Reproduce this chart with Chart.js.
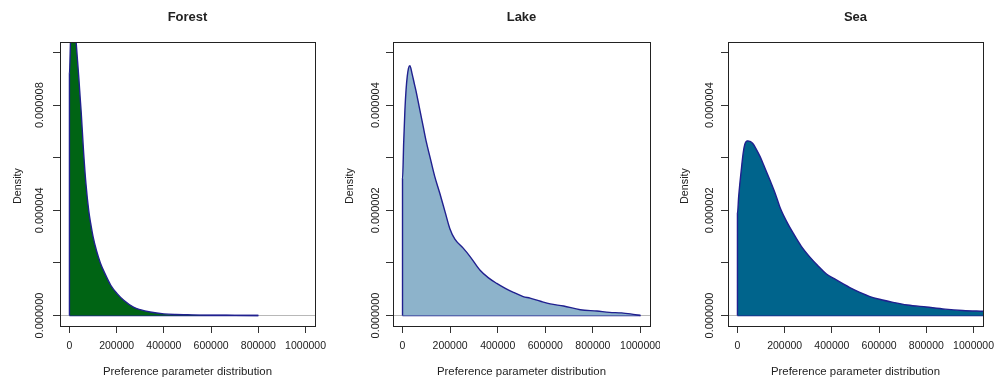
<!DOCTYPE html>
<html>
<head>
<meta charset="utf-8">
<script src="https://cdn.jsdelivr.net/npm/chart.js@4.4.1/dist/chart.umd.min.js"></script>
<style>
  html, body { margin: 0; padding: 0; background: #ffffff; }
  #wrap { position: relative; width: 995px; height: 381px; }
  .pane { position: absolute; top: 0; height: 381px; }
</style>
</head>
<body>
<div id="wrap">
  <div class="pane" style="left:0;width:330px"><canvas id="cForest"></canvas></div>
  <div class="pane" style="left:330px;width:330px"><canvas id="cLake"></canvas></div>
  <div class="pane" style="left:660px;width:335px"><canvas id="cSea"></canvas></div>
</div>
<script>
// ---------- data (density values) ----------
const panelTitles = ["Forest", "Lake", "Sea"];
const xAxisTitle = "Preference parameter distribution";
const yAxisTitle = "Density";

const xTickValues = [0, 200000, 400000, 600000, 800000, 1000000];
const xTickLabels = ["0", "200000", "400000", "600000", "800000", "1000000"];

const forestYTicks = [0, 0.000002, 0.000004, 0.000006, 0.000008, 0.000010];
const forestYLabels = ["0.000000", "", "0.000004", "", "0.000008", ""];
const waterYTicks = [0, 0.000001, 0.000002, 0.000003, 0.000004, 0.000005];
const waterYLabels = ["0.000000", "", "0.000002", "", "0.000004", ""];

const forestX = [0, 5000, 10000, 15000, 20000, 25000, 30000, 35000, 40000, 46000, 50000, 60000, 70000, 81500, 90000, 100000, 115000, 131000, 150000, 175000, 201000, 230000, 271000, 300000, 342000, 400000, 450000, 500000, 550000, 600000, 700000, 800000];
const forestY = [9.2e-6, 10.6e-6, 11.3e-6, 11.5e-6, 11.3e-6, 10.8e-6, 10.2e-6, 9.6e-6, 9.0e-6, 8.2e-6, 7.7e-6, 6.2e-6, 5.0e-6, 4.0e-6, 3.5e-6, 3.0e-6, 2.45e-6, 2.0e-6, 1.6e-6, 1.15e-6, 0.84e-6, 0.58e-6, 0.32e-6, 0.22e-6, 0.13e-6, 0.06e-6, 0.035e-6, 0.025e-6, 0.015e-6, 0.01e-6, 0.005e-6, 0];

const lakeX = [0, 5000, 10000, 15000, 20000, 25000, 31000, 40000, 50000, 59000, 70000, 87000, 100000, 115000, 135000, 157000, 180000, 199000, 220000, 255000, 284000, 326000, 360000, 396000, 430000, 466000, 507000, 536000, 580000, 621000, 677000, 747000, 817000, 870000, 920000, 958000, 1000000];
const lakeY = [2.6e-6, 3.3e-6, 3.9e-6, 4.3e-6, 4.55e-6, 4.7e-6, 4.75e-6, 4.6e-6, 4.4e-6, 4.22e-6, 3.97e-6, 3.59e-6, 3.3e-6, 3.02e-6, 2.65e-6, 2.32e-6, 1.95e-6, 1.65e-6, 1.45e-6, 1.28e-6, 1.12e-6, 0.86e-6, 0.72e-6, 0.61e-6, 0.52e-6, 0.44e-6, 0.36e-6, 0.33e-6, 0.27e-6, 0.22e-6, 0.18e-6, 0.11e-6, 0.085e-6, 0.06e-6, 0.05e-6, 0.03e-6, 0];

const seaX = [0, 5000, 10000, 17000, 24000, 31000, 42000, 53000, 65000, 80000, 96000, 115000, 138000, 160000, 180000, 207000, 237000, 270000, 307000, 340000, 377000, 410000, 448000, 476000, 518000, 561000, 610000, 659000, 720000, 800000, 880000, 954000, 1040000, 1100000];
const seaY = [1.94e-6, 2.25e-6, 2.5e-6, 2.8e-6, 3.08e-6, 3.25e-6, 3.32e-6, 3.31e-6, 3.27e-6, 3.16e-6, 3.02e-6, 2.82e-6, 2.57e-6, 2.32e-6, 2.06e-6, 1.80e-6, 1.56e-6, 1.32e-6, 1.11e-6, 0.95e-6, 0.79e-6, 0.70e-6, 0.60e-6, 0.53e-6, 0.44e-6, 0.36e-6, 0.30e-6, 0.25e-6, 0.20e-6, 0.16e-6, 0.12e-6, 0.095e-6, 0.08e-6, 0.07e-6];

// ---------- drawing ----------
const FONT = '"Liberation Sans", Arial, Helvetica, sans-serif';
const TEXT = '#222222';
const LINE = '#20208f';

const framePlugin = {
  id: 'rframe',
  afterDraw(chart) {
    const o = chart.options.plugins.rframe;
    const a = chart.chartArea;
    const ctx = chart.ctx;
    ctx.save();
    ctx.strokeStyle = '#222222';
    ctx.lineWidth = 1;
    ctx.strokeRect(Math.round(a.left) + 0.5, Math.round(a.top) + 0.5,
                   Math.round(a.right - a.left), Math.round(a.bottom - a.top));
    ctx.fillStyle = TEXT;
    ctx.font = 'bold 13px ' + FONT;
    ctx.textAlign = 'center';
    ctx.textBaseline = 'middle';
    ctx.fillText(o.title, (a.left + a.right) / 2, 17);
    ctx.font = '11.4px ' + FONT;
    ctx.fillText(xAxisTitle, (a.left + a.right) / 2, 372);
    const ys = chart.scales.y;
    ctx.save();
    ctx.translate(a.left - o.yTitleOff, (a.top + a.bottom) / 2 + 2);
    ctx.rotate(-Math.PI / 2);
    ctx.font = '10.8px ' + FONT;
    ctx.fillText(yAxisTitle, 0, 0);
    ctx.restore();
    ctx.font = '11px ' + FONT;
    o.yTicks.forEach((v, i) => {
      const lab = o.yLabels[i];
      if (!lab) return;
      const py = ys.getPixelForValue(v);
      ctx.save();
      ctx.translate(a.left - o.yLabOff, py);
      ctx.rotate(-Math.PI / 2);
      ctx.fillText(lab, 0, 0);
      ctx.restore();
    });
    ctx.restore();
  }
};

function makeChart(id, title, xs, ys, fillColor, yTicks, yLabels, yMin, yMax, area, canvasW) {
  const pts = [{x: 0, y: 0}].concat(xs.map((x, i) => ({x: x, y: ys[i]})));
  const lastX = xs[xs.length - 1];
  const xMin = -40000, xMax = 1040000;
  return new Chart(document.getElementById(id), {
    type: 'line',
    data: {
      datasets: [
        { data: pts, borderColor: LINE, borderWidth: 1.4, backgroundColor: fillColor,
          fill: 'origin', pointRadius: 0, cubicInterpolationMode: 'monotone' },
        { data: [{x: 0, y: 0}, {x: lastX, y: 0}], borderColor: LINE, borderWidth: 1.4,
          fill: false, pointRadius: 0 },
        { data: [{x: xMin, y: 0}, {x: xMax, y: 0}], borderColor: '#b8b8b8', borderWidth: 1.2,
          fill: false, pointRadius: 0 }
      ]
    },
    options: {
      responsive: true,
      maintainAspectRatio: false,
      animation: false,
      events: [],
      layout: { padding: { left: 0, top: area.top, right: canvasW - area.right, bottom: 0 } },
      plugins: {
        legend: { display: false },
        tooltip: { enabled: false },
        rframe: { title: title, yTicks: yTicks, yLabels: yLabels, yLabOff: area.labOff, yTitleOff: area.titleOff }
      },
      scales: {
        x: {
          type: 'linear', min: xMin, max: xMax,
          afterBuildTicks: s => { s.ticks = xTickValues.map(v => ({value: v})); },
          afterFit: s => { s.height = 381 - area.bottom; s.paddingLeft = 0; s.paddingRight = 0; },
          ticks: { callback: (v, i) => xTickLabels[i], color: TEXT, font: { family: FONT, size: 10.5 },
                   padding: 7, maxRotation: 0, autoSkip: false },
          grid: { drawOnChartArea: false, drawTicks: true, tickLength: 7, color: '#333333', lineWidth: 1 },
          border: { display: true, color: '#222222', width: 1 }
        },
        y: {
          type: 'linear', min: yMin, max: yMax,
          afterBuildTicks: s => { s.ticks = yTicks.map(v => ({value: v})); },
          afterFit: s => { s.width = area.left; s.paddingTop = 0; s.paddingBottom = 0; },
          ticks: { display: false },
          grid: { drawOnChartArea: false, drawTicks: true, tickLength: 7, color: '#333333', lineWidth: 1 },
          border: { display: true, color: '#222222', width: 1 }
        }
      }
    },
    plugins: [framePlugin]
  });
}

makeChart('cForest', panelTitles[0], forestX, forestY, '#006414', forestYTicks, forestYLabels,
          -0.0000004, 0.0000104, {left: 60, top: 42, right: 315, bottom: 326, labOff: 20, titleOff: 42}, 330);
makeChart('cLake', panelTitles[1], lakeX, lakeY, '#8db3cb', waterYTicks, waterYLabels,
          -0.0000002, 0.0000052, {left: 63, top: 42, right: 320, bottom: 326, labOff: 17, titleOff: 43}, 330);
makeChart('cSea', panelTitles[2], seaX, seaY, '#00648c', waterYTicks, waterYLabels,
          -0.0000002, 0.0000052, {left: 68, top: 42, right: 323, bottom: 326, labOff: 18, titleOff: 43}, 335);
</script>
</body>
</html>
